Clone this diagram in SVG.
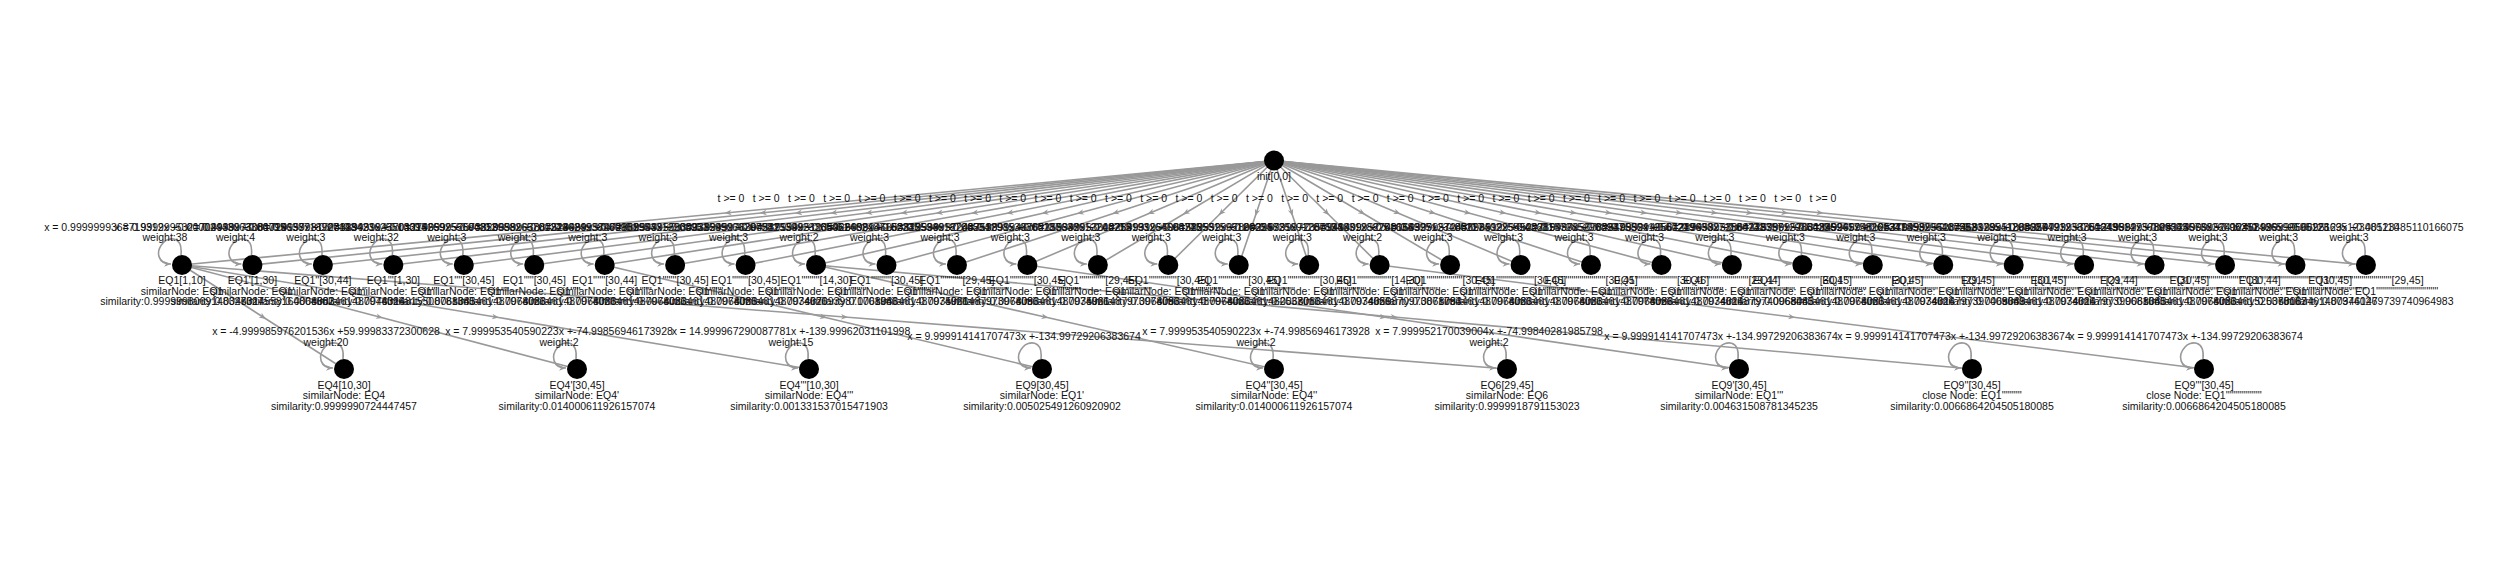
<svg xmlns="http://www.w3.org/2000/svg" width="2500" height="562" viewBox="0 0 2500 562">
<defs>
<marker id="am" viewBox="0 0 10 10" refX="5" refY="5" markerWidth="8" markerHeight="7" markerUnits="userSpaceOnUse" orient="auto"><path d="M0,1 L10,5 L0,9 L3,5 z" fill="#999"/></marker>
<marker id="ae" viewBox="0 0 10 10" refX="10" refY="5" markerWidth="8" markerHeight="7" markerUnits="userSpaceOnUse" orient="auto"><path d="M0,1 L10,5 L0,9 L3,5 z" fill="#999"/></marker>
<style>
.e{stroke:#999;stroke-width:1.6;fill:none;marker-mid:url(#am)}
.l{stroke:#999;stroke-width:1.6;fill:none;marker-end:url(#ae)}
text{font-family:"Liberation Sans",Arial,sans-serif;font-size:10.5px;fill:#111;text-anchor:middle}
circle{fill:#000}
</style>
</defs>
<rect width="2500" height="562" fill="#fff"/>
<g id="connectors">
<path class="e" d="M1274,160.5 L728,212.75 L182,265"/>
<path class="e" d="M1274,160.5 L763.2,212.75 L252.45,265"/>
<path class="e" d="M1274,160.5 L798.5,212.75 L322.9,265"/>
<path class="e" d="M1274,160.5 L833.7,212.75 L393.35,265"/>
<path class="e" d="M1274,160.5 L868.9,212.75 L463.8,265"/>
<path class="e" d="M1274,160.5 L904.1,212.75 L534.25,265"/>
<path class="e" d="M1274,160.5 L939.35,212.75 L604.7,265"/>
<path class="e" d="M1274,160.5 L974.6,212.75 L675.15,265"/>
<path class="e" d="M1274,160.5 L1009.8,212.75 L745.6,265"/>
<path class="e" d="M1274,160.5 L1045,212.75 L816.05,265"/>
<path class="e" d="M1274,160.5 L1080.25,212.75 L886.5,265"/>
<path class="e" d="M1274,160.5 L1115.5,212.75 L956.95,265"/>
<path class="e" d="M1274,160.5 L1150.7,212.75 L1027.4,265"/>
<path class="e" d="M1274,160.5 L1185.9,212.75 L1097.85,265"/>
<path class="e" d="M1274,160.5 L1221.15,212.75 L1168.3,265"/>
<path class="e" d="M1274,160.5 L1256.4,212.75 L1238.75,265"/>
<path class="e" d="M1274,160.5 L1291.6,212.75 L1309.2,265"/>
<path class="e" d="M1274,160.5 L1326.8,212.75 L1379.65,265"/>
<path class="e" d="M1274,160.5 L1362.05,212.75 L1450.1,265"/>
<path class="e" d="M1274,160.5 L1397.3,212.75 L1520.55,265"/>
<path class="e" d="M1274,160.5 L1432.5,212.75 L1591,265"/>
<path class="e" d="M1274,160.5 L1467.7,212.75 L1661.45,265"/>
<path class="e" d="M1274,160.5 L1502.95,212.75 L1731.9,265"/>
<path class="e" d="M1274,160.5 L1538.2,212.75 L1802.35,265"/>
<path class="e" d="M1274,160.5 L1573.4,212.75 L1872.8,265"/>
<path class="e" d="M1274,160.5 L1608.6,212.75 L1943.25,265"/>
<path class="e" d="M1274,160.5 L1643.85,212.75 L2013.7,265"/>
<path class="e" d="M1274,160.5 L1679.1,212.75 L2084.15,265"/>
<path class="e" d="M1274,160.5 L1714.3,212.75 L2154.6,265"/>
<path class="e" d="M1274,160.5 L1749.5,212.75 L2225.05,265"/>
<path class="e" d="M1274,160.5 L1784.75,212.75 L2295.5,265"/>
<path class="e" d="M1274,160.5 L1820,212.75 L2365.95,265"/>
<path class="e" d="M182,265 L263,317 L344,369"/>
<path class="e" d="M182,265 L379.5,317 L577,369"/>
<path class="e" d="M182,265 L495.5,317 L809,369"/>
<path class="e" d="M604.7,265 L823.4,317 L1042,369"/>
<path class="e" d="M816.05,265 L1045,317 L1274,369"/>
<path class="e" d="M182,265 L844.5,317 L1507,369"/>
<path class="e" d="M1027.4,265 L1383.2,317 L1739,369"/>
<path class="e" d="M816.05,265 L1394,317 L1972,369"/>
<path class="e" d="M1379.65,265 L1791.8,317 L2204,369"/>
</g>
<g id="edge-labels">
<text x="731" y="202">t &gt;= 0</text>
<text x="766.2" y="202">t &gt;= 0</text>
<text x="801.5" y="202">t &gt;= 0</text>
<text x="836.7" y="202">t &gt;= 0</text>
<text x="871.9" y="202">t &gt;= 0</text>
<text x="907.1" y="202">t &gt;= 0</text>
<text x="942.4" y="202">t &gt;= 0</text>
<text x="977.6" y="202">t &gt;= 0</text>
<text x="1012.8" y="202">t &gt;= 0</text>
<text x="1048" y="202">t &gt;= 0</text>
<text x="1083.3" y="202">t &gt;= 0</text>
<text x="1118.5" y="202">t &gt;= 0</text>
<text x="1153.7" y="202">t &gt;= 0</text>
<text x="1188.9" y="202">t &gt;= 0</text>
<text x="1224.2" y="202">t &gt;= 0</text>
<text x="1259.4" y="202">t &gt;= 0</text>
<text x="1294.6" y="202">t &gt;= 0</text>
<text x="1329.8" y="202">t &gt;= 0</text>
<text x="1365.1" y="202">t &gt;= 0</text>
<text x="1400.3" y="202">t &gt;= 0</text>
<text x="1435.5" y="202">t &gt;= 0</text>
<text x="1470.7" y="202">t &gt;= 0</text>
<text x="1506" y="202">t &gt;= 0</text>
<text x="1541.2" y="202">t &gt;= 0</text>
<text x="1576.4" y="202">t &gt;= 0</text>
<text x="1611.6" y="202">t &gt;= 0</text>
<text x="1646.9" y="202">t &gt;= 0</text>
<text x="1682.1" y="202">t &gt;= 0</text>
<text x="1717.3" y="202">t &gt;= 0</text>
<text x="1752.5" y="202">t &gt;= 0</text>
<text x="1787.8" y="202">t &gt;= 0</text>
<text x="1823" y="202">t &gt;= 0</text>
</g>
<g id="root"><circle cx="1274" cy="160.5" r="10"/><text x="1274" y="179.5">init[0,0]</text></g>
<g id="m0"><path class="l" d="M181,255 C183,235 168,237 163,243 C155,252 158,264 171,264"/><circle cx="182" cy="265" r="10"/><text x="165" y="231">x = 0.9999999368719312x +0.00002443063386795</text><text x="165" y="241">weight:38</text><text x="182" y="284">EQ1[1,10]</text><text x="182" y="294.5">similarNode: EQ1</text><text x="182" y="305">similarity:0.9999998069148327027</text></g>
<g id="m1"><path class="l" d="M251.45,255 C253.45,235 238.45,237 233.45,243 C225.45,252 228.45,264 241.45,264"/><circle cx="252.45" cy="265" r="10"/><text x="235.45" y="231">x = 0.9999995321704938x +0.00019638718927443</text><text x="235.45" y="241">weight:4</text><text x="252.45" y="284">EQ1'[1,30]</text><text x="252.45" y="294.5">similarNode: EQ1'</text><text x="252.45" y="305">similarity:0.0046314558164804802</text></g>
<g id="m2"><path class="l" d="M321.9,255 C323.9,235 308.9,237 303.9,243 C295.9,252 298.9,264 311.9,264"/><circle cx="322.9" cy="265" r="10"/><text x="305.9" y="231">x = 0.9999973081724157x +0.00198423625513394</text><text x="305.9" y="241">weight:3</text><text x="322.9" y="284">EQ1''[30,44]</text><text x="322.9" y="294.5">similarNode: EQ1''</text><text x="322.9" y="305">similarity:0.0068083461487974026</text></g>
<g id="m3"><path class="l" d="M392.35,255 C394.35,235 379.35,237 374.35,243 C366.35,252 369.35,264 382.35,264"/><circle cx="393.35" cy="265" r="10"/><text x="376.35" y="231">x = 0.9999981728839431x +0.00015269255694812</text><text x="376.35" y="241">weight:32</text><text x="393.35" y="284">EQ1'''[1,30]</text><text x="393.35" y="294.5">similarNode: EQ1'''</text><text x="393.35" y="305">similarity:0.0046314815508781345</text></g>
<g id="m4"><path class="l" d="M462.8,255 C464.8,235 449.8,237 444.8,243 C436.8,252 439.8,264 452.8,264"/><circle cx="463.8" cy="265" r="10"/><text x="446.8" y="231">x = 0.9999943701274659x +0.00253988265701249</text><text x="446.8" y="241">weight:3</text><text x="463.8" y="284">EQ1''''[30,45]</text><text x="463.8" y="294.5">similarNode: EQ1''''</text><text x="463.8" y="305">similarity:0.0068083461487974026</text></g>
<g id="m5"><path class="l" d="M533.25,255 C535.25,235 520.25,237 515.25,243 C507.25,252 510.25,264 523.25,264"/><circle cx="534.25" cy="265" r="10"/><text x="517.25" y="231">x = 0.9999952573820658x +0.00224624938969901</text><text x="517.25" y="241">weight:3</text><text x="534.25" y="284">EQ1'''''[30,45]</text><text x="534.25" y="294.5">similarNode: EQ1'''''</text><text x="534.25" y="305">similarity:0.0068083461487974026</text></g>
<g id="m6"><path class="l" d="M603.7,255 C605.7,235 590.7,237 585.7,243 C577.7,252 580.7,264 593.7,264"/><circle cx="604.7" cy="265" r="10"/><text x="587.7" y="231">x = 0.9999963887523489x +0.00158954312903953</text><text x="587.7" y="241">weight:3</text><text x="604.7" y="284">EQ1''''''[30,44]</text><text x="604.7" y="294.5">similarNode: EQ1''''''</text><text x="604.7" y="305">similarity:0.0068083461487974026</text></g>
<g id="m7"><path class="l" d="M674.15,255 C676.15,235 661.15,237 656.15,243 C648.15,252 651.15,264 664.15,264"/><circle cx="675.15" cy="265" r="10"/><text x="658.15" y="231">x = 0.9999957472882543x +0.00231599066297582</text><text x="658.15" y="241">weight:3</text><text x="675.15" y="284">EQ1'''''''[30,45]</text><text x="675.15" y="294.5">similarNode: EQ1'''''''</text><text x="675.15" y="305">similarity:0.0068083461487974026</text></g>
<g id="m8"><path class="l" d="M744.6,255 C746.6,235 731.6,237 726.6,243 C718.6,252 721.6,264 734.6,264"/><circle cx="745.6" cy="265" r="10"/><text x="728.6" y="231">x = 0.9999955330938245x +0.00241539923365451</text><text x="728.6" y="241">weight:3</text><text x="745.6" y="284">EQ1''''''''[30,45]</text><text x="745.6" y="294.5">similarNode: EQ1''''''''</text><text x="745.6" y="305">similarity:0.0068083461487974026</text></g>
<g id="m9"><path class="l" d="M815.05,255 C817.05,235 802.05,237 797.05,243 C789.05,252 792.05,264 805.05,264"/><circle cx="816.05" cy="265" r="10"/><text x="799.05" y="231">x = 0.9999978394537154x +0.00062482487152335</text><text x="799.05" y="241">weight:2</text><text x="816.05" y="284">EQ1'''''''''[14,30]</text><text x="816.05" y="294.5">similarNode: EQ1'''''''''</text><text x="816.05" y="305">similarity:0.0034670939871701946</text></g>
<g id="m10"><path class="l" d="M885.5,255 C887.5,235 872.5,237 867.5,243 C859.5,252 862.5,264 875.5,264"/><circle cx="886.5" cy="265" r="10"/><text x="869.5" y="231">x = 0.9999951235926608x +0.00248594618736534</text><text x="869.5" y="241">weight:3</text><text x="886.5" y="284">EQ1''''''''''[30,45]</text><text x="886.5" y="294.5">similarNode: EQ1''''''''''</text><text x="886.5" y="305">similarity:0.0068083461487974026</text></g>
<g id="m11"><path class="l" d="M955.95,255 C957.95,235 942.95,237 937.95,243 C929.95,252 932.95,264 945.95,264"/><circle cx="956.95" cy="265" r="10"/><text x="939.95" y="231">x = 0.9999946653822538x +0.00251298539365187</text><text x="939.95" y="241">weight:3</text><text x="956.95" y="284">EQ1'''''''''''[29,45]</text><text x="956.95" y="294.5">similarNode: EQ1'''''''''''</text><text x="956.95" y="305">similarity:0.0035961487973974096</text></g>
<g id="m12"><path class="l" d="M1026.4,255 C1028.4,235 1013.4,237 1008.4,243 C1000.4,252 1003.4,264 1016.4,264"/><circle cx="1027.4" cy="265" r="10"/><text x="1010.4" y="231">x = 0.9999952248753891x +0.00230638612248715</text><text x="1010.4" y="241">weight:3</text><text x="1027.4" y="284">EQ1''''''''''''[30,45]</text><text x="1027.4" y="294.5">similarNode: EQ1''''''''''''</text><text x="1027.4" y="305">similarity:0.0068083461487974026</text></g>
<g id="m13"><path class="l" d="M1096.85,255 C1098.85,235 1083.85,237 1078.85,243 C1070.85,252 1073.85,264 1086.85,264"/><circle cx="1097.85" cy="265" r="10"/><text x="1080.85" y="231">x = 0.9999948762155342x +0.00252193264698745</text><text x="1080.85" y="241">weight:3</text><text x="1097.85" y="284">EQ1'''''''''''''[29,45]</text><text x="1097.85" y="294.5">similarNode: EQ1'''''''''''''</text><text x="1097.85" y="305">similarity:0.0035961487973974096</text></g>
<g id="m14"><path class="l" d="M1167.3,255 C1169.3,235 1154.3,237 1149.3,243 C1141.3,252 1144.3,264 1157.3,264"/><circle cx="1168.3" cy="265" r="10"/><text x="1151.3" y="231">x = 0.9999953612284931x +0.00228531595126654</text><text x="1151.3" y="241">weight:3</text><text x="1168.3" y="284">EQ1''''''''''''''[30,45]</text><text x="1168.3" y="294.5">similarNode: EQ1''''''''''''''</text><text x="1168.3" y="305">similarity:0.0068083461487974026</text></g>
<g id="m15"><path class="l" d="M1237.75,255 C1239.75,235 1224.75,237 1219.75,243 C1211.75,252 1214.75,264 1227.75,264"/><circle cx="1238.75" cy="265" r="10"/><text x="1221.75" y="231">x = 0.9999955961582552x +0.00229825691287534</text><text x="1221.75" y="241">weight:3</text><text x="1238.75" y="284">EQ1'''''''''''''''[30,45]</text><text x="1238.75" y="294.5">similarNode: EQ1'''''''''''''''</text><text x="1238.75" y="305">similarity:0.0068083461482537016</text></g>
<g id="m16"><path class="l" d="M1308.2,255 C1310.2,235 1295.2,237 1290.2,243 C1282.2,252 1285.2,264 1298.2,264"/><circle cx="1309.2" cy="265" r="10"/><text x="1292.2" y="231">x = 0.9999962899295731x +0.00198831288251638</text><text x="1292.2" y="241">weight:3</text><text x="1309.2" y="284">EQ1''''''''''''''''[30,45]</text><text x="1309.2" y="294.5">similarNode: EQ1''''''''''''''''</text><text x="1309.2" y="305">similarity:0.0068083461487974026</text></g>
<g id="m17"><path class="l" d="M1378.65,255 C1380.65,235 1365.65,237 1360.65,243 C1352.65,252 1355.65,264 1368.65,264"/><circle cx="1379.65" cy="265" r="10"/><text x="1362.65" y="231">x = 0.9999972356941409x +0.00064995123485117</text><text x="1362.65" y="241">weight:2</text><text x="1379.65" y="284">EQ1'''''''''''''''''[14,30]</text><text x="1379.65" y="294.5">similarNode: EQ1'''''''''''''''''</text><text x="1379.65" y="305">similarity:0.0034659870973871794</text></g>
<g id="m18"><path class="l" d="M1449.1,255 C1451.1,235 1436.1,237 1431.1,243 C1423.1,252 1426.1,264 1439.1,264"/><circle cx="1450.1" cy="265" r="10"/><text x="1433.1" y="231">x = 0.9999952748156327x +0.00227402255943681</text><text x="1433.1" y="241">weight:3</text><text x="1450.1" y="284">EQ1''''''''''''''''''[30,45]</text><text x="1450.1" y="294.5">similarNode: EQ1''''''''''''''''''</text><text x="1450.1" y="305">similarity:0.0068083461487974026</text></g>
<g id="m19"><path class="l" d="M1519.55,255 C1521.55,235 1506.55,237 1501.55,243 C1493.55,252 1496.55,264 1509.55,264"/><circle cx="1520.55" cy="265" r="10"/><text x="1503.55" y="231">x = 0.9999957248693512x +0.00211572852963947</text><text x="1503.55" y="241">weight:3</text><text x="1520.55" y="284">EQ1'''''''''''''''''''[30,45]</text><text x="1520.55" y="294.5">similarNode: EQ1'''''''''''''''''''</text><text x="1520.55" y="305">similarity:0.0068083461487974026</text></g>
<g id="m20"><path class="l" d="M1590,255 C1592,235 1577,237 1572,243 C1564,252 1567,264 1580,264"/><circle cx="1591" cy="265" r="10"/><text x="1574" y="231">x = 0.9999954522785437x +0.00237586412557249</text><text x="1574" y="241">weight:3</text><text x="1591" y="284">EQ1''''''''''''''''''''[30,45]</text><text x="1591" y="294.5">similarNode: EQ1''''''''''''''''''''</text><text x="1591" y="305">similarity:0.0068083461487974026</text></g>
<g id="m21"><path class="l" d="M1660.45,255 C1662.45,235 1647.45,237 1642.45,243 C1634.45,252 1637.45,264 1650.45,264"/><circle cx="1661.45" cy="265" r="10"/><text x="1644.45" y="231">x = 0.9999956782549852x +0.00219638271584732</text><text x="1644.45" y="241">weight:3</text><text x="1661.45" y="284">EQ1'''''''''''''''''''''[30,46]</text><text x="1661.45" y="294.5">similarNode: EQ1'''''''''''''''''''''</text><text x="1661.45" y="305">similarity:0.0068083461487974026</text></g>
<g id="m22"><path class="l" d="M1730.9,255 C1732.9,235 1717.9,237 1712.9,243 C1704.9,252 1707.9,264 1720.9,264"/><circle cx="1731.9" cy="265" r="10"/><text x="1714.9" y="231">x = 0.9999949561287453x +0.00248357129854396</text><text x="1714.9" y="241">weight:3</text><text x="1731.9" y="284">EQ1''''''''''''''''''''''[29,44]</text><text x="1731.9" y="294.5">similarNode: EQ1''''''''''''''''''''''</text><text x="1731.9" y="305">similarity:0.0034614879740968445</text></g>
<g id="m23"><path class="l" d="M1801.35,255 C1803.35,235 1788.35,237 1783.35,243 C1775.35,252 1778.35,264 1791.35,264"/><circle cx="1802.35" cy="265" r="10"/><text x="1785.35" y="231">x = 0.9999953864125786x +0.00235941758261347</text><text x="1785.35" y="241">weight:3</text><text x="1802.35" y="284">EQ1'''''''''''''''''''''''[30,45]</text><text x="1802.35" y="294.5">similarNode: EQ1'''''''''''''''''''''''</text><text x="1802.35" y="305">similarity:0.0068083461487974026</text></g>
<g id="m24"><path class="l" d="M1871.8,255 C1873.8,235 1858.8,237 1853.8,243 C1845.8,252 1848.8,264 1861.8,264"/><circle cx="1872.8" cy="265" r="10"/><text x="1855.8" y="231">x = 0.9999952631849265x +0.00241853296417582</text><text x="1855.8" y="241">weight:3</text><text x="1872.8" y="284">EQ1''''''''''''''''''''''''[30,45]</text><text x="1872.8" y="294.5">similarNode: EQ1''''''''''''''''''''''''</text><text x="1872.8" y="305">similarity:0.0068083461487974026</text></g>
<g id="m25"><path class="l" d="M1942.25,255 C1944.25,235 1929.25,237 1924.25,243 C1916.25,252 1919.25,264 1932.25,264"/><circle cx="1943.25" cy="265" r="10"/><text x="1926.25" y="231">x = 0.9999948125376498x +0.00253378541293687</text><text x="1926.25" y="241">weight:3</text><text x="1943.25" y="284">EQ1'''''''''''''''''''''''''[29,45]</text><text x="1943.25" y="294.5">similarNode: EQ1'''''''''''''''''''''''''</text><text x="1943.25" y="305">similarity:0.0034614797397409649</text></g>
<g id="m26"><path class="l" d="M2012.7,255 C2014.7,235 1999.7,237 1994.7,243 C1986.7,252 1989.7,264 2002.7,264"/><circle cx="2013.7" cy="265" r="10"/><text x="1996.7" y="231">x = 0.9999955237468129x +0.00226491238751643</text><text x="1996.7" y="241">weight:3</text><text x="2013.7" y="284">EQ1''''''''''''''''''''''''''[30,45]</text><text x="2013.7" y="294.5">similarNode: EQ1''''''''''''''''''''''''''</text><text x="2013.7" y="305">similarity:0.0068083461487974026</text></g>
<g id="m27"><path class="l" d="M2083.15,255 C2085.15,235 2070.15,237 2065.15,243 C2057.15,252 2060.15,264 2073.15,264"/><circle cx="2084.15" cy="265" r="10"/><text x="2067.15" y="231">x = 0.9999951836954723x +0.00249514736899563</text><text x="2067.15" y="241">weight:3</text><text x="2084.15" y="284">EQ1'''''''''''''''''''''''''''[29,44]</text><text x="2084.15" y="294.5">similarNode: EQ1'''''''''''''''''''''''''''</text><text x="2084.15" y="305">similarity:0.0034614797399681645</text></g>
<g id="m28"><path class="l" d="M2153.6,255 C2155.6,235 2140.6,237 2135.6,243 C2127.6,252 2130.6,264 2143.6,264"/><circle cx="2154.6" cy="265" r="10"/><text x="2137.6" y="231">x = 0.9999953351249882x +0.00245573826695351</text><text x="2137.6" y="241">weight:3</text><text x="2154.6" y="284">EQ1''''''''''''''''''''''''''''[30,45]</text><text x="2154.6" y="294.5">similarNode: EQ1''''''''''''''''''''''''''''</text><text x="2154.6" y="305">similarity:0.0068083461487974026</text></g>
<g id="m29"><path class="l" d="M2224.05,255 C2226.05,235 2211.05,237 2206.05,243 C2198.05,252 2201.05,264 2214.05,264"/><circle cx="2225.05" cy="265" r="10"/><text x="2208.05" y="231">x = 0.9999957825124066x +0.00212486592695123</text><text x="2208.05" y="241">weight:3</text><text x="2225.05" y="284">EQ1'''''''''''''''''''''''''''''[30,44]</text><text x="2225.05" y="294.5">similarNode: EQ1'''''''''''''''''''''''''''''</text><text x="2225.05" y="305">similarity:0.0068083461525370167</text></g>
<g id="m30"><path class="l" d="M2294.5,255 C2296.5,235 2281.5,237 2276.5,243 C2268.5,252 2271.5,264 2284.5,264"/><circle cx="2295.5" cy="265" r="10"/><text x="2278.5" y="231">x = 0.9999952412468926x +0.00226695123485110</text><text x="2278.5" y="241">weight:3</text><text x="2295.5" y="284">EQ1''''''''''''''''''''''''''''''[30,45]</text><text x="2295.5" y="294.5">similarNode: EQ1''''''''''''''''''''''''''''''</text><text x="2295.5" y="305">similarity:0.0068083461487974026</text></g>
<g id="m31"><path class="l" d="M2364.95,255 C2366.95,235 2351.95,237 2346.95,243 C2338.95,252 2341.95,264 2354.95,264"/><circle cx="2365.95" cy="265" r="10"/><text x="2348.95" y="231">x = 0.99999956695123x +0.00123485110166075</text><text x="2348.95" y="241">weight:3</text><text x="2365.95" y="284">EQ1'''''''''''''''''''''''''''''''[29,45]</text><text x="2365.95" y="294.5">similarNode: EQ1'''''''''''''''''''''''''''''''</text><text x="2365.95" y="305">similarity:0.003461479739740964983</text></g>
<g id="b0"><path class="l" d="M343,359 C345,339 330,341 325,347 C317,356 320,368 333,368"/><circle cx="344" cy="369" r="10"/><text x="326" y="335">x = -4.999985976201536x +59.99983372300628</text><text x="326" y="345.5">weight:20</text><text x="344" y="388.5">EQ4[10,30]</text><text x="344" y="399">similarNode: EQ4</text><text x="344" y="409.5">similarity:0.9999990724447457</text></g>
<g id="b1"><path class="l" d="M576,359 C578,339 563,341 558,347 C550,356 553,368 566,368"/><circle cx="577" cy="369" r="10"/><text x="559" y="335">x = 7.999953540590223x +-74.99856946173928</text><text x="559" y="345.5">weight:2</text><text x="577" y="388.5">EQ4'[30,45]</text><text x="577" y="399">similarNode: EQ4'</text><text x="577" y="409.5">similarity:0.014000611926157074</text></g>
<g id="b2"><path class="l" d="M808,359 C810,339 795,341 790,347 C782,356 785,368 798,368"/><circle cx="809" cy="369" r="10"/><text x="791" y="335">x = 14.999967290087781x +-139.99962031101998</text><text x="791" y="345.5">weight:15</text><text x="809" y="388.5">EQ4'''[10,30]</text><text x="809" y="399">similarNode: EQ4'''</text><text x="809" y="409.5">similarity:0.001331537015471903</text></g>
<g id="b3"><path class="l" d="M1041,359 C1043,339 1028,341 1023,347 C1015,356 1018,368 1031,368"/><circle cx="1042" cy="369" r="10"/><text x="1024" y="340">x = 9.999914141707473x +-134.99729206383674</text><text x="1042" y="388.5">EQ9[30,45]</text><text x="1042" y="399">similarNode: EQ1'</text><text x="1042" y="409.5">similarity:0.005025491260920902</text></g>
<g id="b4"><path class="l" d="M1273,359 C1275,339 1260,341 1255,347 C1247,356 1250,368 1263,368"/><circle cx="1274" cy="369" r="10"/><text x="1256" y="335">x = 7.999953540590223x +-74.99856946173928</text><text x="1256" y="345.5">weight:2</text><text x="1274" y="388.5">EQ4''[30,45]</text><text x="1274" y="399">similarNode: EQ4''</text><text x="1274" y="409.5">similarity:0.014000611926157074</text></g>
<g id="b5"><path class="l" d="M1506,359 C1508,339 1493,341 1488,347 C1480,356 1483,368 1496,368"/><circle cx="1507" cy="369" r="10"/><text x="1489" y="335">x = 7.999952170039004x +-74.99840281985798</text><text x="1489" y="345.5">weight:2</text><text x="1507" y="388.5">EQ6[29,45]</text><text x="1507" y="399">similarNode: EQ6</text><text x="1507" y="409.5">similarity:0.9999918791153023</text></g>
<g id="b6"><path class="l" d="M1738,359 C1740,339 1725,341 1720,347 C1712,356 1715,368 1728,368"/><circle cx="1739" cy="369" r="10"/><text x="1721" y="340">x = 9.999914141707473x +-134.99729206383674</text><text x="1739" y="388.5">EQ9'[30,45]</text><text x="1739" y="399">similarNode: EQ1'''</text><text x="1739" y="409.5">similarity:0.004631508781345235</text></g>
<g id="b7"><path class="l" d="M1971,359 C1973,339 1958,341 1953,347 C1945,356 1948,368 1961,368"/><circle cx="1972" cy="369" r="10"/><text x="1954" y="340">x = 9.999914141707473x +-134.99729206383674</text><text x="1972" y="388.5">EQ9''[30,45]</text><text x="1972" y="399">close Node: EQ1''''''''''</text><text x="1972" y="409.5">similarity:0.0066864204505180085</text></g>
<g id="b8"><path class="l" d="M2203,359 C2205,339 2190,341 2185,347 C2177,356 2180,368 2193,368"/><circle cx="2204" cy="369" r="10"/><text x="2186" y="340">x = 9.999914141707473x +-134.99729206383674</text><text x="2204" y="388.5">EQ9'''[30,45]</text><text x="2204" y="399">close Node: EQ1''''''''''''''''''</text><text x="2204" y="409.5">similarity:0.0066864204505180085</text></g>
</svg>
